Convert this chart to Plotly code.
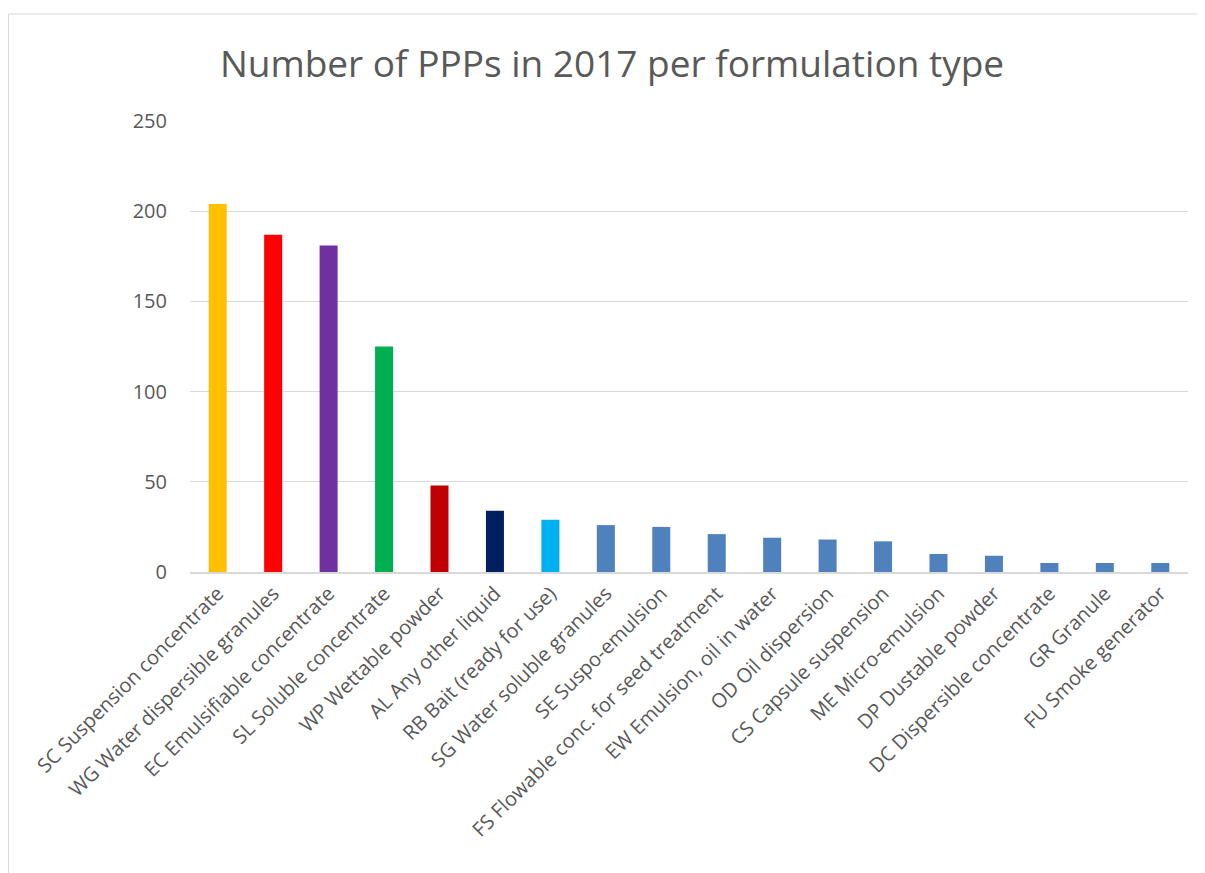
import plotly.graph_objects as go

categories = [
    "SC Suspension concentrate", "WG Water dispersible granules", "EC Emulsifiable concentrate",
    "SL Soluble concentrate", "WP Wettable powder", "AL Any other liquid",
    "RB Bait (ready for use)", "SG Water soluble granules", "SE Suspo-emulsion",
    "FS Flowable conc. for seed treatment", "EW Emulsion, oil in water", "OD Oil dispersion",
    "CS Capsule suspension", "ME Micro-emulsion", "DP Dustable powder",
    "DC Dispersible concentrate", "GR Granule", "FU Smoke generator",
]
values = [204, 187, 181, 125, 48, 34, 29, 26, 25, 21, 19, 18, 17, 10, 9, 5, 5, 5]
colors = ["#FFC000", "#FF0000", "#7030A0", "#00B050", "#C00000", "#002060", "#00B0F0"] + ["#4F81BD"] * 11
y_ticks = [0, 50, 100, 150, 200, 250]

fig = go.Figure(go.Bar(x=categories, y=values, marker=dict(color=colors, line=dict(width=0)),
                       hoverinfo="x+y"))

# page body has an 8px margin; figure coordinates are offset by it
W, H = 1197, 865
ml, mr, mt, mb = 182, 17, 113, 301
pw, ph = W - ml - mr, H - mt - mb

fig.update_layout(
    width=W, height=H,
    margin=dict(l=ml, r=mr, t=mt, b=mb, autoexpand=False),
    paper_bgcolor="white", plot_bgcolor="white",
    bargap=0.675,
    showlegend=False,
    title=dict(text="Number of PPPs in 2017 per formulation type",
               x=(612 - 8) / W, xanchor="center", y=1 - (64 - 8) / H, yanchor="middle",
               font=dict(family="Open Sans", size=37, color="#595959")),
    font=dict(family="Open Sans", color="#595959"),
    xaxis=dict(tickangle=-45, tickfont=dict(size=20, color="#595959"),
               showline=True, linecolor="#D9D9D9", linewidth=2, ticks="",
               showgrid=False, automargin=False),
    yaxis=dict(range=[0, 250], tickvals=y_ticks, tickfont=dict(size=20, color="#595959"),
               showgrid=True, gridcolor="#D9D9D9", gridwidth=1, zeroline=False,
               showline=False, ticks="", ticklabelstandoff=22, automargin=False),
    shapes=[dict(type="rect", xref="paper", yref="paper",
                 x0=(0.5 - ml) / pw, x1=(W + 10 - ml) / pw,
                 y0=-(H + 10 - mt - ph) / ph, y1=1 + (mt - 6) / ph,
                 line=dict(color="#D9D9D9", width=1), layer="below")],
)

fig.write_html("out.html")
